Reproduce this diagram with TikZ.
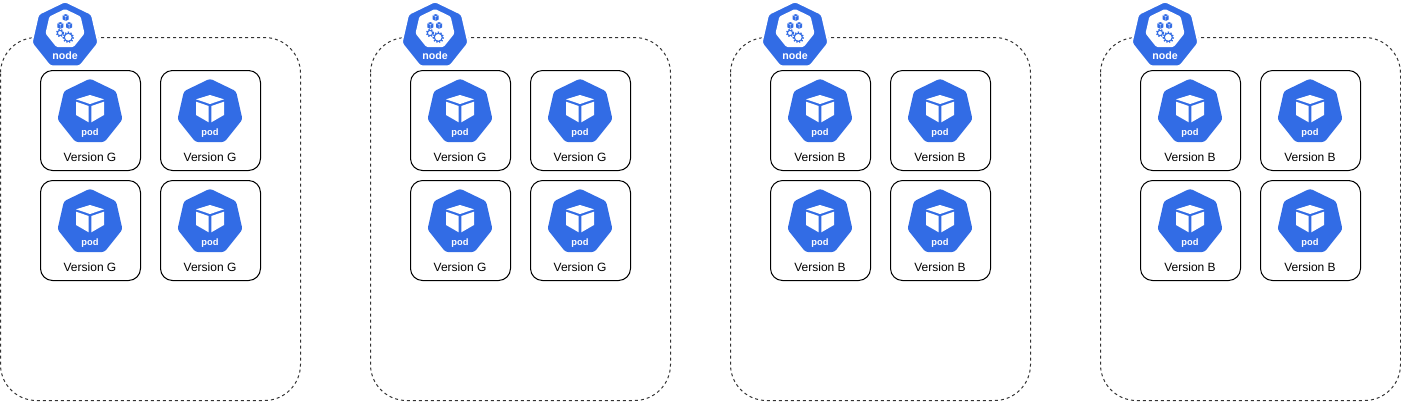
\documentclass[tikz,border=0pt]{standalone}
\usepackage{fontspec}
\setmainfont{Liberation Sans}
\usetikzlibrary{positioning,shapes.geometric}
\definecolor{KubeBlue}{HTML}{326CE5}
\definecolor{KubeLine}{HTML}{333333}
\tikzset{
  kube zone/.style={
    draw=KubeLine,
    dash pattern=on 2.25pt off 2.25pt,
    line width=0.75pt,
    rounded corners=27pt
  },
  kube box/.style={
    draw=black,
    fill=white,
    line width=0.75pt,
    rounded corners=9pt,
    minimum width=75pt,
    minimum height=75pt,
    inner sep=0pt
  },
  kube hept/.style={
    regular polygon,
    regular polygon sides=7,
    fill=KubeBlue,
    inner sep=0pt,
    outer sep=0pt,
    rounded corners=2pt,
    minimum size=50pt
  },
  kube inner/.style={
    regular polygon,
    regular polygon sides=7,
    fill=white,
    inner sep=0pt,
    outer sep=0pt,
    rounded corners=1pt,
    minimum size=30pt
  },
  kube ring/.style={draw=white,line width=1.5pt},
  kube white/.style={text=white,inner sep=0pt,font=\fontsize{7}{8}\selectfont\bfseries},
  kube version/.style={text=black,inner sep=0pt,font=\fontsize{9}{10}\selectfont},
  kube gear/.style={draw=KubeBlue,fill=white,line width=0.8pt},
  kube teeth/.style={draw=KubeBlue,line width=1.2pt,dash pattern=on 1pt off 1.1pt},
  pics/podcube/.style={
    code={
      \fill[white] (0,-17) -- (14,-12.7) -- (0,-8) -- (-14,-12.7) -- cycle;
      \fill[white] (-14,-10.3) -- (-1.3,-6) -- (-1.3,10.3) -- (-14,3) -- cycle;
      \fill[white] (14,-10.3) -- (1.3,-6) -- (1.3,10.3) -- (14,3) -- cycle;
    }
  },
  pics/minicube/.style={
    code={
      \fill[KubeBlue] (0,-3.4) -- (3,-2.2) -- (3,1.9) -- (0,3.4) -- (-3,1.9) -- (-3,-2.2) -- cycle;
      \draw[white,line width=0.25pt] (-3,-2.2) -- (0,-1) -- (3,-2.2) (0,-1) -- (0,3.4);
    }
  }
}
\begin{document}
\begin{tikzpicture}[x=0.75pt,y=-0.75pt]
  \useasboundingbox (0,0) rectangle (1401,401);
  \foreach \col/\ver in {0/G,370/G,730/B,1100/B} {
    \begin{scope}[shift={(\col,0)}]
      \draw[kube zone] (0.5,37.5) rectangle (300.5,400.5);
      \node[kube hept,kube ring,fill=KubeBlue,minimum size=51.5pt] (node-\col) at (65,35.5) {};
      \node[kube inner] (inner-\col) at (65,29) {};
      \node[kube white,font=\fontsize{8}{9}\selectfont\bfseries] (nodename-\col) at (65,55.5) {node};
      \pic at (65.7,17.5) {minicube};
      \pic at (60.3,25.5) {minicube};
      \pic at (69.1,25.5) {minicube};
      \draw[kube teeth] (60,33) circle (3.4);
      \draw[kube gear] (60,33) circle (2.6);
      \draw[kube teeth] (68.3,37.3) circle (5);
      \draw[kube gear] (68.3,37.3) circle (4);
      \foreach \x in {90,210} {
        \foreach \y in {120,230} {
          \node[kube box] (box-\col-\x-\y) at (\x+0.5,\y+0.5) {};
          \node[kube hept] (pod-\col-\x-\y) at (\x,\y-8) {};
          \pic at (\x,\y-8) {podcube};
          \node[kube white] (podname-\col-\x-\y) at (\x,\y+13) {pod};
          \node[kube version] (version-\col-\x-\y) at (\x,\y+37) {Version \ver};
        }
      }
    \end{scope}
  }
\end{tikzpicture}
\end{document}
